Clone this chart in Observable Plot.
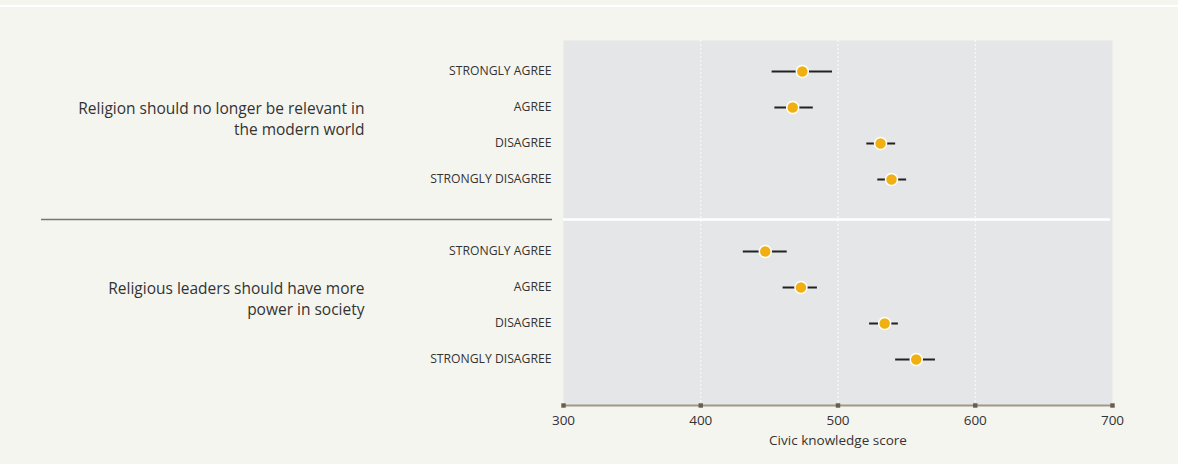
<!DOCTYPE html>
<html>
<head>
<meta charset="utf-8">
<script src="https://cdn.jsdelivr.net/npm/d3@7"></script>
<script src="https://cdn.jsdelivr.net/npm/@observablehq/plot@0.6"></script>
<style>
  html, body { margin: 0; padding: 0; background: #f5f5f0; }
  #wrap { position: relative; width: 1178px; height: 464px; background: #f5f5f0; overflow: hidden; }
  #topline { position: absolute; left: 0; top: 5px; width: 1178px; height: 2px; background: #ffffff; }
  #chart { position: absolute; left: 0; top: 0; }
</style>
</head>
<body>
<div id="wrap"><div id="topline"></div><div id="chart"></div></div>
<script>
// ---- data ----
const statements = [
  "Religion should no longer be relevant in\nthe modern world",
  "Religious leaders should have more\npower in society"
];
const responses = ["STRONGLY AGREE", "AGREE", "DISAGREE", "STRONGLY DISAGREE"];
// statement 1
const mean1 = [474, 467, 531, 539];
const low1  = [452, 454, 521, 529];
const high1 = [496, 482, 542, 550];
// statement 2
const mean2 = [447, 473, 534, 557];
const low2  = [431, 460, 523, 542];
const high2 = [463, 485, 544, 571];
const xTicks = [300, 400, 500, 600, 700];
const gridValues = [400, 500, 600];
const xLabel = "Civic knowledge score";

// ---- build table ----
const GAP = "gap";
const keyOf = (g, r) => g + "|" + r;
const rows = [];
[[mean1, low1, high1], [mean2, low2, high2]].forEach(([m, lo, hi], g) => {
  responses.forEach((r, i) => rows.push({key: keyOf(g, r), response: r, mean: m[i], lo: lo[i], hi: hi[i]}));
});
const yDomain = [
  ...responses.map(r => keyOf(0, r)),
  GAP,
  ...responses.map(r => keyOf(1, r))
];
const labelRows = statements.map((s, g) => ({key: keyOf(g, "AGREE"), text: s}));

const font = "'Open Sans', Lato, sans-serif";

const chart = Plot.plot({
  width: 1178,
  height: 464,
  marginTop: 40,
  marginBottom: 59,
  marginLeft: 563,
  marginRight: 66,
  style: {background: "transparent", fontFamily: font, color: "#333"},
  x: {domain: [300, 700]},
  y: {type: "point", domain: yDomain, padding: 1, align: 0.4},
  marks: [
    Plot.frame({fill: "#e5e6e8", stroke: null}),
    Plot.ruleX(gridValues, {stroke: "#ffffff", strokeDasharray: "2,2", strokeWidth: 1, strokeOpacity: 0.9}),
    Plot.ruleY([GAP], {stroke: "#ffffff", strokeWidth: 2.5, dy: 4, insetRight: 2}),
    Plot.ruleY([GAP], {stroke: "#7d7568", strokeWidth: 1.5, dy: 4, insetLeft: -522, insetRight: 560}),
    Plot.frame({anchor: "bottom", stroke: "#a09888", strokeWidth: 2}),
    Plot.dot(xTicks, {x: d => d, frameAnchor: "bottom", symbol: "square", r: 2.5, fill: "#6b5d4c"}),
    Plot.ruleY(rows, {y: "key", x1: "lo", x2: "hi", stroke: "#222", strokeWidth: 2}),
    Plot.dot(rows, {x: "mean", y: "key", r: 6, fill: "#f0b012", stroke: "#ffffff", strokeWidth: 1.5}),
    Plot.text(labelRows, {y: "key", text: "text", frameAnchor: "left", textAnchor: "end", dx: -199, dy: 10,
      lineAnchor: "middle", lineHeight: 1.37, fontSize: 15.5, fill: "#333"}),
    Plot.axisY({ticks: yDomain.filter(k => k !== GAP), tickSize: 0, tickPadding: 12,
      tickFormat: k => k.split("|")[1], fontSize: 12.2, label: null}),
    Plot.axisX({ticks: xTicks, tickSize: 0, tickPadding: 10, fontSize: 13.5,
      label: xLabel, labelAnchor: "center", labelArrow: "none", labelOffset: 39})
  ]
});
document.getElementById("chart").appendChild(chart);
</script>
</body>
</html>
